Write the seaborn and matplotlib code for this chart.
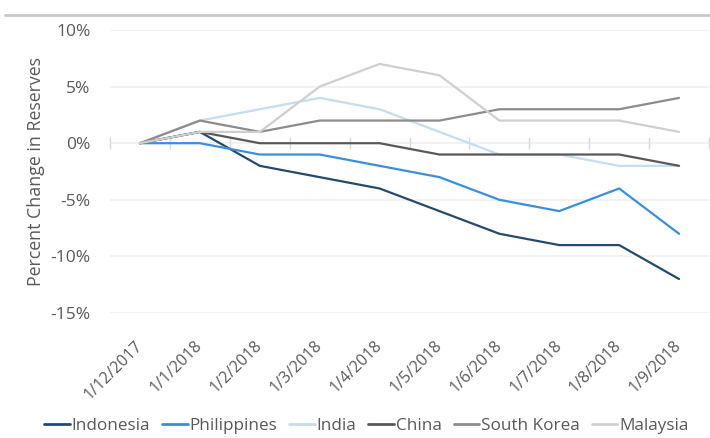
import numpy as np
import pandas as pd
import matplotlib
matplotlib.use("Agg")
import matplotlib.pyplot as plt
from matplotlib.ticker import FuncFormatter
import seaborn as sns

DATES = ["1/12/2017", "1/1/2018", "1/2/2018", "1/3/2018", "1/4/2018",
         "1/5/2018", "1/6/2018", "1/7/2018", "1/8/2018", "1/9/2018"]

indonesia   = [0, 1, -2, -3, -4, -6, -8, -9, -9, -12]
philippines = [0, 0, -1, -1, -2, -3, -5, -6, -4, -8]
india       = [0, 2, 3, 4, 3, 1, -1, -1, -2, -2]
china       = [0, 1, 0, 0, 0, -1, -1, -1, -1, -2]
south_korea = [0, 2, 1, 2, 2, 2, 3, 3, 3, 4]
malaysia    = [0, 1, 1, 5, 7, 6, 2, 2, 2, 1]

SERIES = {
    "Indonesia":   indonesia,
    "Philippines": philippines,
    "India":       india,
    "China":       china,
    "South Korea": south_korea,
    "Malaysia":    malaysia,
}
COLORS = {
    "Indonesia":   "#254a70",
    "Philippines": "#3a8ee0",
    "India":       "#c5dcf2",
    "China":       "#595959",
    "South Korea": "#8c8c8c",
    "Malaysia":    "#cfcfcf",
}
YTICKS = [10, 5, 0, -5, -10, -15]

TEXT = "#595959"

rows = []
for name, vals in SERIES.items():
    for i, v in enumerate(vals):
        rows.append({"idx": i, "value": v, "country": name})
df = pd.DataFrame(rows)

sns.set_theme(style="white")
plt.rcParams["font.family"] = ["Open Sans", "DejaVu Sans"]

fig = plt.figure(figsize=(7.1, 4.38), dpi=100)
ax = fig.add_axes([0.155, 0.2854, 0.8436, 0.6461])

# grey rule across the top
fig.add_artist(plt.Line2D([0.007, 1.0], [0.966, 0.966], color="#c8c8c8",
                          lw=2, transform=fig.transFigure))

for y in YTICKS:
    ax.axhline(y, color="#f0f0f0", lw=1.2, zorder=0)

sns.lineplot(data=df, x="idx", y="value", hue="country",
             hue_order=list(SERIES), palette=COLORS, lw=1.6,
             ax=ax, legend=False)

ax.set_xlim(-0.5, len(DATES) - 0.5)
ax.set_ylim(min(YTICKS), max(YTICKS))
ax.set_yticks(YTICKS)
ax.yaxis.set_major_formatter(FuncFormatter(lambda v, _: f"{v:.0f}%"))
ax.set_xticks(range(len(DATES)))
ax.set_xticklabels(DATES, rotation=45, ha="right", va="center",
                   rotation_mode="anchor")
ax.tick_params(axis="x", length=0, pad=22, labelsize=11.5, labelcolor=TEXT)
ax.tick_params(axis="y", length=0, pad=14, labelsize=12.5, labelcolor=TEXT)
for s in ax.spines.values():
    s.set_visible(False)

ax.set_xlabel("")
ax.set_ylabel("Percent Change in Reserves", color=TEXT, fontsize=12.8,
              labelpad=4)

# category axis crossing at 0%
zero = (0 - min(YTICKS)) / (max(YTICKS) - min(YTICKS))
sec = ax.secondary_xaxis(zero)
sec.set_xticks(np.arange(-0.5, len(DATES), 1.0))
sec.set_xticklabels([])
sec.tick_params(bottom=True, length=4, color="#d9d9d9", width=1,
                direction="out")
sec.spines["bottom"].set_color("#d9d9d9")
sec.spines["bottom"].set_linewidth(1.2)
for k in ("top", "left", "right"):
    sec.spines[k].set_visible(False)

handles = [plt.Line2D([], [], color=COLORS[n], lw=2) for n in SERIES]
fig.legend(handles, list(SERIES), loc="center", bbox_to_anchor=(0.516, 0.028),
           ncol=6, frameon=False, fontsize=12.3, labelcolor=TEXT,
           handlelength=1.5, handletextpad=0.1, columnspacing=0.7)

fig.savefig("out.png", dpi=100)
